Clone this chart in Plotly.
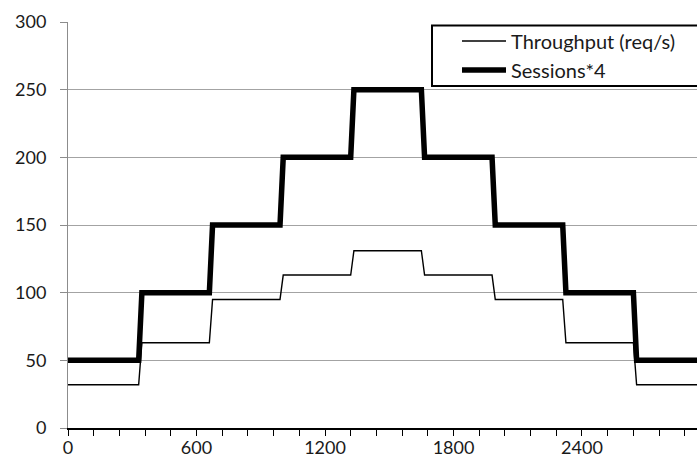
import plotly.graph_objects as go

# Load test profile: sample times (s) and measured values.
# Each load level is held, then ramps to the next one over ~15 s.
time_s = [0, 330, 345, 660, 675, 990, 1005, 1320, 1335,
          1650, 1665, 1980, 1995, 2310, 2325, 2640, 2655, 3000]
sessions_x4 = [50, 50, 100, 100, 150, 150, 200, 200, 250,
               250, 200, 200, 150, 150, 100, 100, 50, 50]
throughput = [32, 32, 63, 63, 95, 95, 113, 113, 131,
              131, 113, 113, 95, 95, 63, 63, 32, 32]

y_ticks = [0, 50, 100, 150, 200, 250, 300]
x_ticks = [0, 600, 1200, 1800, 2400]

FONT = "Lato"
TXT = "#1a1a1a"

fig = go.Figure()
fig.add_trace(go.Scatter(
    x=time_s, y=throughput, mode="lines", name="Throughput (req/s)",
    line=dict(color="black", width=1.4),
))
fig.add_trace(go.Scatter(
    x=time_s, y=sessions_x4, mode="lines", name="Sessions*4",
    line=dict(color="black", width=5.5),
))

W, H = 697, 468
ML, MR, MT, MB = 68, 0, 22, 40
pw, ph = W - ML - MR, H - MT - MB


def px_x(p):
    return (p - ML) / pw


def px_y(p):
    return 1 - (p - MT) / ph


# Legend frame (runs off the right edge of the figure)
fig.add_shape(type="rect", xref="paper", yref="paper",
              x0=px_x(432), x1=1.05, y0=px_y(86), y1=px_y(25.5),
              line=dict(color="black", width=2),
              fillcolor="rgba(0,0,0,0)", layer="above")

fig.update_layout(
    width=W, height=H,
    margin=dict(l=ML, r=MR, t=MT, b=MB),
    paper_bgcolor="white", plot_bgcolor="white",
    font=dict(family=FONT, size=18, color=TXT),
    showlegend=True,
    legend=dict(
        x=px_x(457), y=px_y(21.5), xanchor="left", yanchor="top",
        bgcolor="rgba(0,0,0,0)", borderwidth=0,
        font=dict(family=FONT, size=20, color=TXT),
        itemwidth=44, tracegroupgap=0,
    ),
    xaxis=dict(
        range=[0, 2937], tickvals=x_ticks, ticktext=[str(v) for v in x_ticks],
        showgrid=False, zeroline=False,
        showline=True, linecolor="black", linewidth=1.5,
        ticks="outside", ticklen=6, tickcolor="black", tickwidth=1.2,
        minor=dict(dtick=120, tick0=0, ticks="outside", ticklen=6,
                   tickcolor="black", tickwidth=1.2, showgrid=False),
        tickfont=dict(family=FONT, size=18, color=TXT),
        ticklabelstandoff=-3,
    ),
    yaxis=dict(
        range=[0, 300], tickvals=y_ticks, ticktext=[str(v) for v in y_ticks],
        showgrid=True, gridcolor="#a3a3a3", gridwidth=1,
        zeroline=False,
        showline=True, linecolor="#8c8c8c", linewidth=1,
        ticks="outside", ticklen=7, tickcolor="#8c8c8c", tickwidth=1,
        tickfont=dict(family=FONT, size=18, color=TXT),
        ticklabelstandoff=10,
    ),
)

fig.write_html("out.html")
